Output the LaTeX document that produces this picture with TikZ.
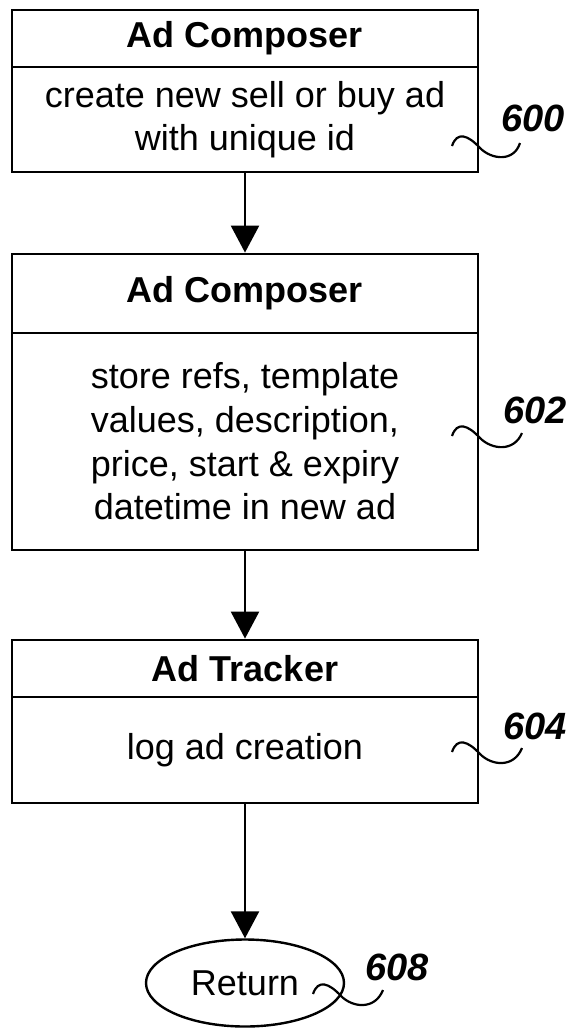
\documentclass[tikz,border=0pt]{standalone}
\usepackage{fontspec}
\setmainfont{Liberation Sans}
\usetikzlibrary{arrows.meta,shapes.geometric}

\begin{document}
\begin{tikzpicture}[x=0.5pt,y=-0.5pt,
  box/.style={draw,line width=1.4pt,minimum width=233pt,inner sep=0pt,align=center,font=\fontsize{18}{21.8}\selectfont},
  head/.style={box,font=\fontsize{18}{21.8}\selectfont\bfseries},
  ref/.style={font=\fontsize{19}{22}\selectfont\bfseries\itshape},
  flow/.style={line width=1.2pt,-{Triangle[length=13.5pt,width=14pt]}},
  lead/.style={line width=1.1pt}]
\useasboundingbox (0,0) rectangle (571,1029);
\node[head,minimum height=28.5pt] (head600) at (245,38.5) {Ad Composer};
\node[box,minimum height=52.5pt] (body600) at (245,119.5) {create new sell or buy ad\\with unique id};
\node[head,minimum height=39.5pt] (head602) at (245,293.5) {Ad Composer};
\node[box,minimum height=108.5pt] (body602) at (245,441.5) {store refs, template\\values, description,\\price, start \& expiry\\datetime in new ad};
\node[head,minimum height=28.5pt] (head604) at (245,668.5) {Ad Tracker};
\node[box,minimum height=53pt] (body604) at (245,750) {log ad creation};
\node[ellipse,draw,line width=1.2pt,minimum width=99pt,minimum height=43.5pt,inner sep=0pt,font=\fontsize{18}{21.8}\selectfont] (ret) at (245,983) {Return};

\draw[flow] (body600.south) -- (head602.north);
\draw[flow] (body602.south) -- (head604.north);
\draw[flow] (body604.south) -- (ret.north);

\node[ref] (l600) at (533,118) {600};
\node[ref] (l602) at (535,410) {602};
\node[ref] (l604) at (535,726) {604};
\node[ref] (l608) at (397,967) {608};
\draw[lead,shift={(452,146)}] (0,0) .. controls (5,-15) and (16,-11) .. (28,2) .. controls (40,14) and (62,16) .. (68,-3);
\draw[lead,shift={(452,436)}] (0,0) .. controls (5,-15) and (16,-11) .. (28,2) .. controls (40,14) and (62,16) .. (70,-3);
\draw[lead,shift={(452,752)}] (0,0) .. controls (5,-15) and (16,-11) .. (28,2) .. controls (40,14) and (62,16) .. (70,-4);
\draw[lead,shift={(313,994)}] (0,0) .. controls (5,-15) and (16,-11) .. (28,2) .. controls (40,14) and (62,16) .. (70,-4);
\end{tikzpicture}
\end{document}
